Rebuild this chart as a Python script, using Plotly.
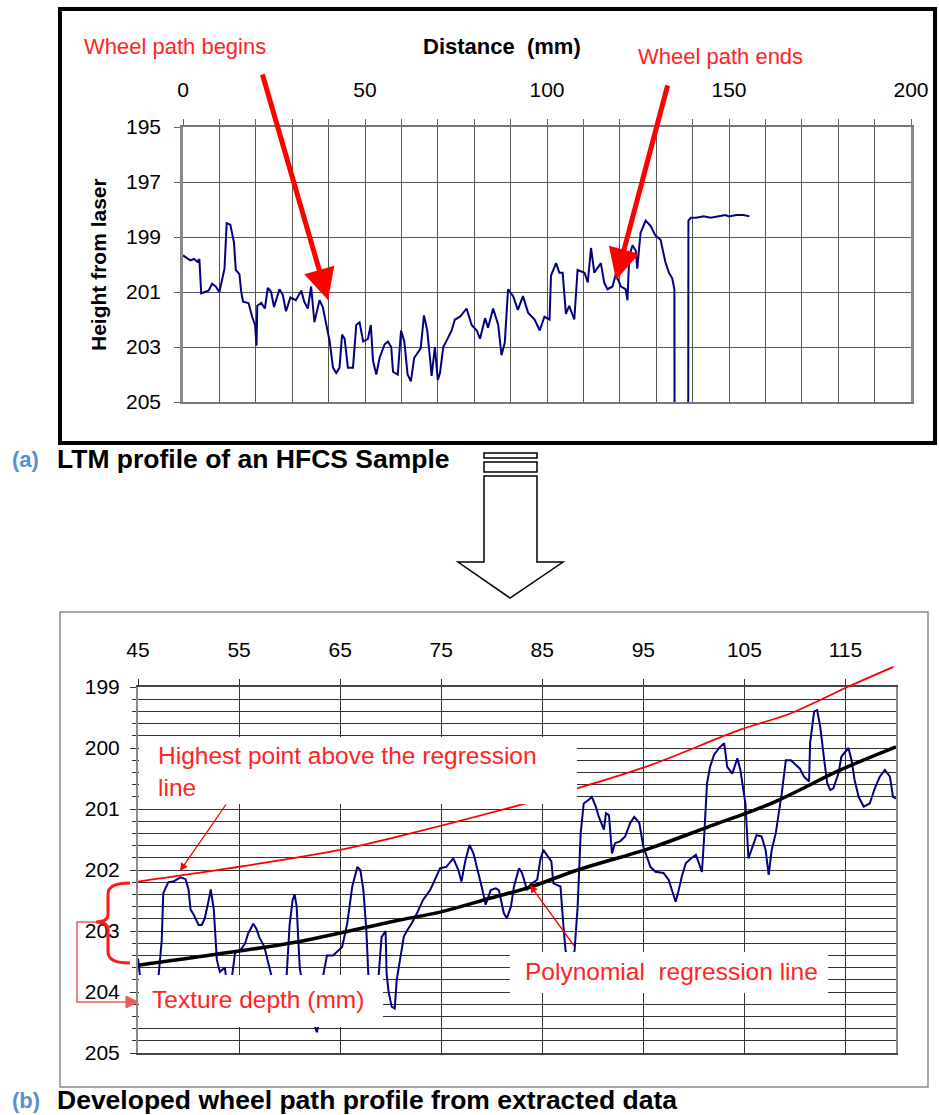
import plotly.graph_objects as go

W, H = 939, 1115

# ---------------- data: (a) LTM profile ----------------
top_dist = [0, 1, 2, 3, 4, 4.5, 5, 6, 7, 8, 9, 10, 10.5, 11.4, 12, 13, 14, 14.5, 15.5, 16, 16.5, 18, 19, 19.8,
            20.2, 20.4, 21.5, 22.5, 23.3, 24.2, 25, 26.5, 27.4, 28.3, 29.5, 31, 32.5, 33.3, 34.3, 35.2, 36.1,
            37.5, 38.4, 39.4, 40.3, 41.2, 42.1, 43, 43.7, 44.4, 45.3, 46.7, 47.6, 48.5, 49.5, 50.8, 51.6, 52.2,
            53.1, 54, 55.4, 56.3, 57.2, 57.7, 59, 59.9, 60.8, 61.7, 62.6, 63.5, 65.3, 66.2, 67.1, 68, 68.3, 69.2,
            70, 70.6, 71.5, 72.5, 73.8, 74.7, 76.1, 77.9, 79.3, 80.7, 81.6, 83, 83.8, 85.2, 86.6, 87.5, 88.4,
            89.3, 90.7, 92, 93.4, 94.8, 96.6, 98, 99.3, 100.7, 101.1, 102.5, 103.4, 104.3, 105.2, 106.1, 107.5,
            108.4, 110.3, 111.2, 112.1, 113, 114.8, 115.7, 116.6, 118, 118.9, 120.3, 121.6, 122.1, 122.6, 123.5,
            124.4, 124.8, 125.7, 127.1, 128.5, 129.8, 131.2, 132.5, 133.5, 134.4, 135, 135.05, 138.8, 138.85,
            139.5, 141, 143, 145, 147, 149, 150, 152, 154, 155.6]
top_height = [199.67, 199.75, 199.85, 199.8, 199.9, 199.8, 201.05, 201.0, 200.95, 200.7, 200.8, 201.0, 200.65,
              200.15, 198.5, 198.55, 199.2, 200.2, 200.35, 201.0, 201.35, 201.4, 201.9, 202.2, 202.95, 201.5,
              201.4, 201.6, 200.85, 201.0, 201.55, 200.9, 201.1, 201.7, 201.2, 201.3, 200.95, 201.35, 201.6,
              200.8, 202.1, 201.3, 201.55, 202.2, 202.8, 203.75, 203.95, 203.75, 202.55, 202.7, 203.75, 203.75,
              202.2, 202.1, 202.8, 202.7, 202.2, 203.5, 204.0, 203.4, 202.9, 202.8, 203.0, 203.9, 204.0, 202.4,
              202.8, 204.0, 204.25, 203.4, 203.05, 201.85, 202.4, 203.6, 204.05, 203.0, 204.2, 203.95, 203.0,
              202.75, 202.4, 202.0, 201.9, 201.6, 202.2, 202.4, 202.7, 201.95, 202.3, 201.6, 202.2, 203.3,
              202.85, 200.9, 201.15, 201.65, 201.15, 201.75, 202.0, 202.4, 201.9, 202.0, 200.4, 199.95, 200.3,
              200.3, 201.8, 201.5, 202.0, 200.2, 200.3, 200.65, 199.4, 200.3, 199.95, 200.65, 200.9, 200.8,
              200.35, 200.8, 200.9, 201.3, 199.7, 199.3, 199.5, 200.15, 198.85, 198.4, 198.6, 198.95, 199.1,
              199.9, 200.3, 200.5, 200.9, 206.0, 206.0, 198.4, 198.3, 198.3, 198.25, 198.3, 198.25, 198.2,
              198.25, 198.2, 198.2, 198.25]

# ---------------- data: (b) developed wheel path ----------------
wp_dist = [45.0, 45.3, 46.3, 47.0, 47.35, 47.5, 48.0, 48.5, 49.2, 49.7, 50.0, 50.2, 50.5, 51.0, 51.3, 51.6, 52.0,
           52.2, 52.5, 52.8, 53.1, 53.6, 53.8, 54.0, 54.3, 54.6, 55.3, 55.6, 55.9, 56.4, 56.7, 57.0, 57.5, 57.8,
           58.1, 58.6, 59.2, 59.7, 60.0, 60.3, 60.5, 60.7, 61.0, 61.4, 62.0, 62.5, 62.7, 62.9, 63.1, 63.3, 63.7,
           64.3, 64.8, 65.2, 65.7, 66.2, 66.7, 67.0, 67.3, 67.6, 67.8, 68.2, 68.6, 68.8, 69.1, 69.5, 69.6, 69.8,
           70.1, 70.4, 70.6, 70.9, 71.3, 71.6, 72.1, 72.6, 73.2, 73.9, 74.4, 74.9, 75.5, 76.2, 76.7, 77.0, 77.4,
           77.8, 78.2, 78.7, 79.0, 79.4, 79.9, 80.4, 80.7, 81.2, 81.5, 81.9, 82.2, 82.7, 83.0, 83.5, 83.8, 84.5,
           84.8, 85.1, 85.6, 85.9, 86.1, 86.8, 87.1, 87.3, 87.7, 88.0, 88.2, 88.5, 88.8, 89.1, 89.6, 89.9, 90.3,
           90.6, 91.1, 91.3, 91.6, 91.9, 92.2, 92.7, 93.2, 93.7, 94.1, 94.6, 95.0, 95.5, 95.7, 96.2, 97.0, 97.5,
           97.8, 98.2, 98.5, 98.8, 99.2, 99.7, 100.2, 100.5, 100.8, 101.0, 101.3, 101.6, 102.0, 102.5, 103.0,
           103.3, 103.8, 104.3, 104.6, 105.1, 105.4, 105.8, 106.2, 106.7, 107.1, 107.4, 107.7, 108.1, 108.4,
           108.7, 109.1, 109.6, 110.1, 110.5, 110.9, 111.4, 111.5, 111.9, 112.2, 112.5, 112.9, 113.2, 113.5,
           113.8, 114.3, 114.6, 115.3, 115.6, 115.9, 116.3, 116.8, 117.4, 117.9, 118.4, 118.9, 119.4, 119.7, 120.0]
wp_height = [203.45, 203.9, 204.1, 203.8, 203.15, 202.38, 202.2, 202.19, 202.12, 202.15, 202.32, 202.65, 202.73,
             202.9, 202.9, 202.8, 202.49, 202.32, 202.65, 203.47, 203.67, 203.6, 203.9, 204.05, 203.75, 203.36,
             203.28, 203.2, 203.04, 202.88, 202.96, 203.1, 203.26, 203.47, 203.69, 204.0, 204.1, 203.75, 202.9,
             202.49, 202.4, 202.6, 203.6, 204.0, 204.3, 204.55, 204.66, 204.5, 204.0, 203.75, 203.4, 203.4,
             203.33, 203.26, 202.88, 202.27, 201.95, 202.0, 202.33, 203.0, 203.75, 204.0, 203.9, 203.75, 203.1,
             203.0, 203.7, 204.0, 204.24, 204.27, 203.8, 203.47, 203.09, 203.0, 202.87, 202.71, 202.49, 202.33,
             202.16, 201.97, 201.95, 201.81, 202.0, 202.19, 201.84, 201.59, 201.73, 202.05, 202.27, 202.57,
             202.33, 202.3, 202.33, 202.71, 202.79, 202.6, 202.27, 201.97, 202.05, 202.33, 202.24, 202.16,
             201.84, 201.67, 201.78, 201.86, 202.22, 202.27, 202.93, 203.31, 203.6, 203.5, 203.31, 202.6, 201.4,
             200.91, 200.85, 200.8, 200.96, 201.13, 201.34, 201.07, 201.1, 201.73, 201.56, 201.53, 201.45,
             201.23, 201.13, 201.23, 201.62, 201.84, 201.95, 202.03, 202.05, 202.16, 202.33, 202.52, 202.33,
             202.11, 201.89, 201.81, 201.75, 201.89, 202.03, 201.51, 200.58, 200.31, 200.11, 200.0, 199.92,
             200.31, 200.42, 200.17, 200.36, 200.91, 201.81, 201.62, 201.43, 201.45, 201.67, 202.08, 201.67,
             201.4, 201.07, 200.74, 200.2, 200.2, 200.28, 200.34, 200.47, 200.55, 199.92, 199.4, 199.38, 199.65,
             200.2, 200.58, 200.69, 200.66, 200.42, 200.14, 200.0, 200.2, 200.52, 200.8, 200.96, 200.91, 200.66,
             200.47, 200.36, 200.47, 200.8, 200.83]

reg_dist = [45, 52.4, 60.7, 70.9, 74.9, 79.9, 83.8, 88.5, 95.7, 101.3, 107.9, 114.5, 120]
reg_height = [203.56, 203.39, 203.18, 202.82, 202.69, 202.46, 202.28, 202.0, 201.64, 201.30, 200.89, 200.36, 199.98]

high_dist = [45, 54.1, 65.0, 70.0, 83.1, 88.5, 95.7, 104.6, 109.6, 115.2, 119.75]
high_height = [202.19, 201.97, 201.67, 201.48, 200.92, 200.66, 200.28, 199.70, 199.43, 199.0, 198.67]

top_xticks = [0, 50, 100, 150, 200]
top_yticks = [195, 197, 199, 201, 203, 205]
bot_xticks = [45, 55, 65, 75, 85, 95, 105, 115]
bot_yticks = [199, 200, 201, 202, 203, 204, 205]

# ---------------- helpers (pixel -> paper) ----------------
def PX(x):
    return x / W

def PY(y):
    return 1 - y / H

FONT = "Liberation Sans"
NAVY = "#000080"
RED = "#ff2424"

fig = go.Figure()
fig.add_trace(go.Scatter(x=top_dist, y=top_height, mode="lines", xaxis="x", yaxis="y",
                         line=dict(color=NAVY, width=2), hoverinfo="skip"))
fig.add_trace(go.Scatter(x=wp_dist, y=wp_height, mode="lines", xaxis="x2", yaxis="y2",
                         line=dict(color=NAVY, width=2), hoverinfo="skip"))
fig.add_trace(go.Scatter(x=reg_dist, y=reg_height, mode="lines", xaxis="x2", yaxis="y2",
                         line=dict(color="black", width=3.5, shape="spline"), hoverinfo="skip"))
fig.add_trace(go.Scatter(x=high_dist, y=high_height, mode="lines", xaxis="x3", yaxis="y3",
                         line=dict(color="#ff0000", width=1.8, shape="spline"), hoverinfo="skip"))

# geometry (pixels)
T_L, T_R, T_T, T_B = 183, 911, 127, 402
B_L, B_R, B_T, B_B = 138, 896, 687, 1053
ppu = (B_B - B_T) / 6.0
B_T3 = 662
y3_top = 205 - (B_B - B_T3) / ppu

tickfont = dict(family=FONT, size=21, color="black")

fig.update_layout(
    width=W, height=H, margin=dict(l=0, r=0, t=0, b=0, pad=0, autoexpand=False),
    paper_bgcolor="white", plot_bgcolor="rgba(0,0,0,0)", showlegend=False,
    font=dict(family=FONT),
    xaxis=dict(domain=[PX(T_L), PX(T_R)], anchor="y", side="top", range=[0, 200],
               tickmode="array", tickvals=top_xticks, ticks="outside", ticklen=6, tickcolor="#666",
               showgrid=True, gridcolor="#555", gridwidth=1,
               minor=dict(dtick=10, tick0=0, showgrid=True, gridcolor="#555", gridwidth=1,
                          ticks="outside", ticklen=6, tickcolor="#666"),
               showline=True, linecolor="#777", linewidth=2, mirror=True, zeroline=False,
               tickfont=tickfont, ticklabelstandoff=14, automargin=False),
    yaxis=dict(domain=[PY(T_B), PY(T_T)], anchor="x", range=[205, 195],
               tickmode="array", tickvals=top_yticks, ticks="outside", ticklen=6, tickcolor="#666",
               showgrid=True, gridcolor="#555", gridwidth=1,
               showline=True, linecolor="#888", linewidth=2.5, mirror=True, zeroline=False,
               tickfont=tickfont, ticklabelstandoff=9, automargin=False),
    xaxis2=dict(domain=[PX(B_L), PX(B_R)], anchor="y2", side="top", range=[45, 120],
                tickmode="array", tickvals=bot_xticks, ticks="outside", ticklen=6, tickcolor="#333",
                showgrid=True, gridcolor="#333", gridwidth=1,
                showline=True, linecolor="#444", linewidth=1.5, mirror=True, zeroline=False,
                tickfont=dict(family=FONT, size=21, color="black"), ticklabelstandoff=14, automargin=False),
    yaxis2=dict(domain=[PY(B_B), PY(B_T)], anchor="x2", range=[205, 199],
                tickmode="array", tickvals=bot_yticks, ticks="outside", ticklen=6, tickcolor="#333",
                showgrid=True, gridcolor="#333", gridwidth=1,
                minor=dict(dtick=0.2, tick0=199, showgrid=True, gridcolor="#333", gridwidth=1,
                           ticks="outside", ticklen=4, tickcolor="#333"),
                showline=True, linecolor="#888", linewidth=2, mirror=True, zeroline=False,
                tickfont=dict(family=FONT, size=21, color="black"), ticklabelstandoff=6, automargin=False),
    xaxis3=dict(domain=[PX(B_L), PX(B_R)], anchor="y3", range=[45, 120], visible=False),
    yaxis3=dict(domain=[PY(B_B), PY(B_T3)], anchor="x3", range=[205, y3_top], visible=False),
)

def P(x, y):
    return f"{PX(x):.5f},{PY(y):.5f}"

shapes = []
# frames
shapes.append(dict(type="rect", xref="paper", yref="paper", x0=PX(60), x1=PX(935), y0=PY(443), y1=PY(9),
                   line=dict(color="black", width=4), layer="above"))
shapes.append(dict(type="rect", xref="paper", yref="paper", x0=PX(60), x1=PX(928), y0=PY(1087), y1=PY(612),
                   line=dict(color="#8a8a8a", width=1.5), layer="below"))
# white label boxes in panel (b)
for (x0, y0, x1, y1) in [(139, 737, 577, 804), (139, 975, 383, 1027), (510, 952, 828, 993)]:
    shapes.append(dict(type="rect", xref="paper", yref="paper", x0=PX(x0), x1=PX(x1), y0=PY(y1), y1=PY(y0),
                       fillcolor="white", line=dict(width=0), layer="above"))
# big hollow arrow between panels
shapes.append(dict(type="rect", xref="paper", yref="paper", x0=PX(484), x1=PX(537), y0=PY(458), y1=PY(453),
                   line=dict(color="black", width=1.5), fillcolor="white", layer="above"))
shapes.append(dict(type="rect", xref="paper", yref="paper", x0=PX(484), x1=PX(537), y0=PY(472), y1=PY(462),
                   line=dict(color="black", width=1.5), fillcolor="white", layer="above"))
arrow_path = ("M " + P(484, 476) + " L " + P(537, 476) + " L " + P(537, 562) + " L " + P(563, 562) +
              " L " + P(510, 598) + " L " + P(458, 562) + " L " + P(484, 562) + " Z")
shapes.append(dict(type="path", xref="paper", yref="paper", path=arrow_path,
                   line=dict(color="black", width=1.5), fillcolor="white", layer="above"))
# curly brace
brace = ("M " + P(130, 883) + " Q " + P(108, 883) + " " + P(108, 894) + " L " + P(108, 914) +
         " Q " + P(108, 922) + " " + P(96, 922) + " Q " + P(108, 922) + " " + P(108, 930) +
         " L " + P(108, 952) + " Q " + P(108, 963) + " " + P(130, 963))
shapes.append(dict(type="path", xref="paper", yref="paper", path=brace,
                   line=dict(color="#ff1a1a", width=3), layer="above"))
# texture depth elbow arrow
elbow = "M " + P(97, 922) + " L " + P(77, 922) + " L " + P(77, 1002) + " L " + P(128, 1002)
shapes.append(dict(type="path", xref="paper", yref="paper", path=elbow,
                   line=dict(color="#f05a5a", width=1.5), layer="above"))
shapes.append(dict(type="path", xref="paper", yref="paper",
                   path="M " + P(126, 996) + " L " + P(138, 1002) + " L " + P(126, 1008) + " Z",
                   line=dict(color="#f05a5a", width=1), fillcolor="#f05a5a", layer="above"))
fig.update_layout(shapes=shapes)

ann = []
def text(x, y, s, size, color="black", bold=False, xanchor="left", angle=0):
    if bold:
        s = f"<b>{s}</b>"
    ann.append(dict(xref="paper", yref="paper", x=PX(x), y=PY(y), text=s, showarrow=False,
                    xanchor=xanchor, yanchor="middle", textangle=angle, align="left",
                    font=dict(family=FONT, size=size, color=color)))

def arrow(tail, tip, width, color, head=2, size=1.0):
    ann.append(dict(xref="paper", yref="paper", x=PX(tip[0]), y=PY(tip[1]), text="",
                    showarrow=True, axref="pixel", ayref="pixel",
                    ax=tail[0] - tip[0], ay=tail[1] - tip[1],
                    arrowhead=head, arrowsize=size, arrowwidth=width, arrowcolor=color, standoff=0))

text(502, 47, "Distance  (mm)", 22, bold=True, xanchor="center")
text(98, 265, "Height from laser", 21, bold=True, xanchor="center", angle=-90)
text(82, 47, "Wheel path begins", 22, color=RED)
text(636, 57, "Wheel path ends", 22, color=RED)
arrow((262, 73), (328, 300), 5, "#ff0000", head=2, size=1.25)
arrow((668, 84), (616, 280), 5, "#ff0000", head=2, size=1.25)

text(10, 459, "(a)", 22, color="#5b8fd0", bold=True)
text(55, 459, "LTM profile of an HFCS Sample", 26.5, bold=True)
text(10, 1100, "(b)", 22, color="#5b8fd0", bold=True)
text(55, 1100, "Developed wheel path profile from extracted data", 26.5, bold=True)

text(156, 771, "Highest point above the regression<br>line", 24.5, color=RED)
text(150, 999, "Texture depth (mm)", 24.5, color=RED)
text(523, 971, "Polynomial  regression line", 24.5, color=RED)
arrow((227, 803), (180, 871), 1.3, "#ff0000", head=2, size=1.2)
arrow((575, 947), (530, 885), 1.3, "#ff0000", head=2, size=1.2)

fig.update_layout(annotations=ann)
# remove the default page margin so the 939x1115 figure fills the window exactly
page_fix = ("document.documentElement.style.overflow='hidden';"
            "document.body.style.margin='0';document.body.style.overflow='hidden';")
fig.write_html("out.html", post_script=page_fix, config={"displayModeBar": False})
